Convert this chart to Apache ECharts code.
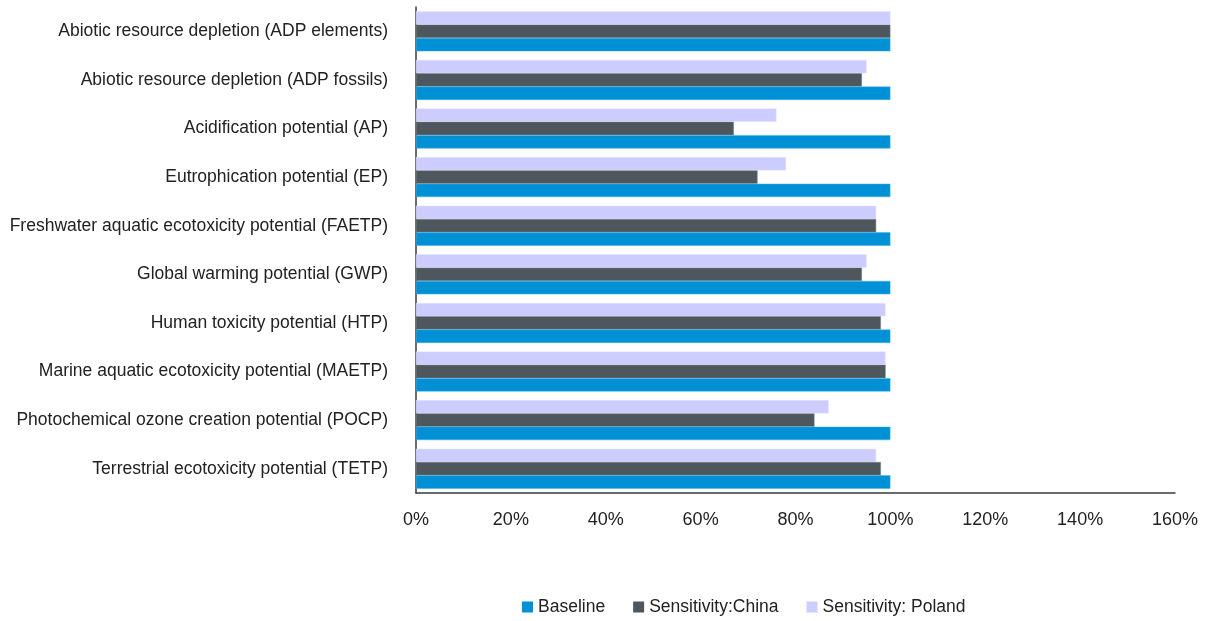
<!DOCTYPE html>
<html>
<head>
<meta charset="utf-8">
<script src="https://cdn.jsdelivr.net/npm/echarts@6/dist/echarts.min.js"></script>
<style>
html,body{margin:0;padding:0;background:#fff;}
#chart{width:1206px;height:621px;}
</style>
</head>
<body>
<div id="chart"></div>
<script>
const categories = [
  "Abiotic resource depletion (ADP elements)",
  "Abiotic resource depletion (ADP fossils)",
  "Acidification potential (AP)",
  "Eutrophication potential (EP)",
  "Freshwater aquatic ecotoxicity potential (FAETP)",
  "Global warming potential (GWP)",
  "Human toxicity potential (HTP)",
  "Marine aquatic ecotoxicity potential (MAETP)",
  "Photochemical ozone creation potential (POCP)",
  "Terrestrial ecotoxicity potential (TETP)"
];
const baseline = [100, 100, 100, 100, 100, 100, 100, 100, 100, 100];
const sensitivityChina = [100, 94, 67, 72, 97, 94, 98, 99, 84, 98];
const sensitivityPoland = [100, 95, 76, 78, 97, 95, 99, 99, 87, 97];
const xTicks = [0, 20, 40, 60, 80, 100, 120, 140, 160];

const chart = echarts.init(document.getElementById('chart'));
const font = 'Liberation Sans, Arial, sans-serif';
chart.setOption({
  animation: false,
  backgroundColor: '#ffffff',
  textStyle: { fontFamily: font },
  grid: { left: 416, right: 31, top: 7, bottom: 128, containLabel: false, outerBoundsMode: 'none' },
  legend: {
    data: ['Baseline', 'Sensitivity:China', 'Sensitivity: Poland'],
    left: 522, top: 598, padding: 0,
    itemWidth: 11, itemHeight: 11, itemGap: 28,
    icon: 'rect',
    itemStyle: { borderWidth: 0 },
    textStyle: { fontSize: 17.5, color: '#222', fontFamily: font }
  },
  xAxis: {
    type: 'value', min: xTicks[0], max: xTicks[xTicks.length - 1], interval: 20,
    axisLine: { show: true, lineStyle: { color: '#3a3a3a', width: 1.5 } },
    axisTick: { show: false },
    splitLine: { show: false },
    axisLabel: { formatter: v => v + '%', fontSize: 18, color: '#222', margin: 18, fontFamily: font }
  },
  yAxis: {
    type: 'category', data: categories, inverse: true,
    axisLine: { show: true, lineStyle: { color: '#3a3a3a', width: 1.5 } },
    axisTick: { show: false },
    axisLabel: { fontSize: 17.5, color: '#222', margin: 28, fontFamily: font }
  },
  series: [
    { name: 'Sensitivity: Poland', type: 'bar', data: sensitivityPoland, barGap: '0%', barCategoryGap: '17.7%',
      itemStyle: { color: '#CCCCFF', borderColor: '#E4E4FF', borderWidth: 0.5 } },
    { name: 'Sensitivity:China', type: 'bar', data: sensitivityChina, barGap: '0%', barCategoryGap: '17.7%',
      itemStyle: { color: '#4D575D', borderColor: '#7a8287', borderWidth: 0.5 } },
    { name: 'Baseline', type: 'bar', data: baseline, barGap: '0%', barCategoryGap: '17.7%',
      itemStyle: { color: '#0090D6', borderColor: '#40b0e6', borderWidth: 0.5 } }
  ]
});
</script>
</body>
</html>
